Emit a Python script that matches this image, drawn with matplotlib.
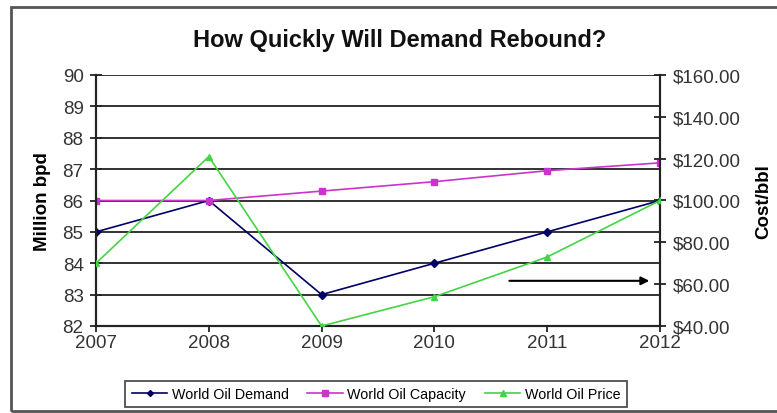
import matplotlib
matplotlib.use("Agg")
import matplotlib.pyplot as plt
from matplotlib.patches import Rectangle
from matplotlib.lines import Line2D

years = [2007, 2008, 2009, 2010, 2011, 2012]
demand = [85, 86, 83, 84, 85, 86]
capacity = [86, 86, 86.3, 86.6, 86.95, 87.2]
price = [70, 121, 40, 54, 73, 100]
left_ticks = [82, 83, 84, 85, 86, 87, 88, 89, 90]
right_ticks = [40, 60, 80, 100, 120, 140, 160]
right_labels = ["$%.2f" % v for v in right_ticks]
arrow_start = (2010.64, 83.44)
arrow_end = (2011.93, 83.44)

plt.rcParams['font.family'] = ['Liberation Sans', 'DejaVu Sans']

fig = plt.figure(figsize=(7.77, 4.14), dpi=100)
fig.patch.set_facecolor('white')
fig.patches.append(Rectangle((11/777, 1-412/414), 1.0, (412-8)/414, transform=fig.transFigure,
                             fill=False, edgecolor='#555555', linewidth=2))

ax = fig.add_axes([96/777, 1-327/414, (660-96)/777, (327-76)/414])
ax2 = ax.twinx()

c_dem = '#000066'
c_cap = '#CC33CC'
c_pri = '#44D444'

for y in left_ticks:
    ax.axhline(y, color='#222222', lw=1.3, zorder=1)

ax.plot(years, demand, color=c_dem, marker='D', ms=4, lw=1.2, zorder=3, label='World Oil Demand')
ax.plot(years, capacity, color=c_cap, marker='s', ms=5, lw=1.2, zorder=3, label='World Oil Capacity')
ax2.plot(years, price, color=c_pri, marker='^', ms=5, lw=1.2, zorder=3, label='World Oil Price')

ax.set_xlim(2007, 2012)
ax.set_ylim(82, 90)
ax2.set_ylim(40, 160)
ax.set_xticks(years)
ax.set_yticks(left_ticks)
ax2.set_yticks(right_ticks)
ax2.set_yticklabels(right_labels)

for a in (ax, ax2):
    a.spines['top'].set_visible(False)
    for s in ['left', 'right', 'bottom']:
        a.spines[s].set_color('#222222')
        a.spines[s].set_linewidth(1.5)

ax.tick_params(axis='y', direction='inout', length=8, width=1.3, labelsize=13.5, pad=5, colors='#222222', labelcolor='#333333')
ax2.tick_params(axis='y', direction='inout', length=8, width=1.3, labelsize=13.5, pad=5, colors='#222222', labelcolor='#333333')
ax.tick_params(axis='x', direction='out', length=4, width=1.3, labelsize=13.5, pad=2, colors='#222222', labelcolor='#333333')

ax.set_ylabel('Million bpd', fontsize=13.5, fontweight='bold')
ax2.set_ylabel('Cost/bbl', fontsize=13.5, fontweight='bold')
ax.yaxis.set_label_coords((51-96)/564, 0.5)
ax2.yaxis.set_label_coords((755-96)/564, 0.5)

ax.annotate('', xy=arrow_end, xytext=arrow_start,
            arrowprops=dict(arrowstyle='-|>', color='black', lw=1.5, mutation_scale=12), zorder=5)

fig.text(400/777, 1-40/414, 'How Quickly Will Demand Rebound?', ha='center', va='center',
         fontsize=17, fontweight='bold', color='#111111')

handles = [Line2D([], [], color=c_dem, marker='D', ms=3, lw=1.2),
           Line2D([], [], color=c_cap, marker='s', ms=4, lw=1.2),
           Line2D([], [], color=c_pri, marker='^', ms=4, lw=1.2)]
leg = fig.legend(handles, ['World Oil Demand', 'World Oil Capacity', 'World Oil Price'],
                 loc='center', bbox_to_anchor=(376/777, 1-395/414), ncol=3, fontsize=10.3,
                 frameon=True, fancybox=False, edgecolor='#222222', handlelength=2.5,
                 handletextpad=0.3, columnspacing=1.3, borderpad=0.45)
leg.get_frame().set_linewidth(1.3)

fig.savefig('out.png', dpi=100)
